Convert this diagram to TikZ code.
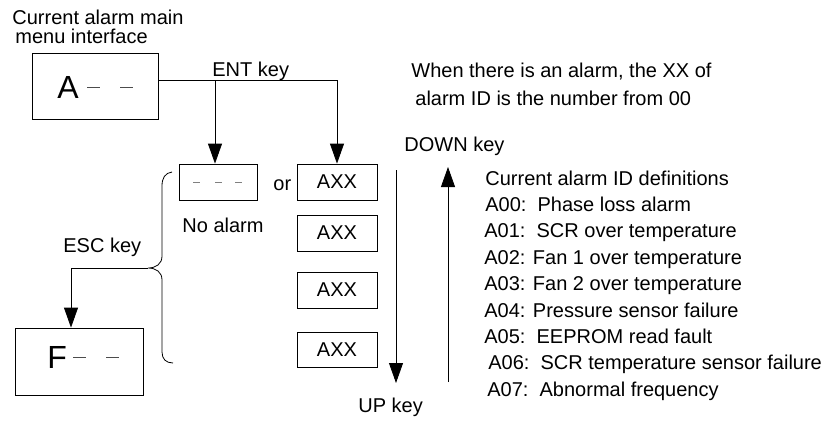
\documentclass[tikz,border=0pt]{standalone}
\usepackage{fontspec}
\setmainfont{Liberation Sans}
\usetikzlibrary{arrows.meta}
\begin{document}
\begin{tikzpicture}[x=1pt,y=-1pt,line width=0.8pt,
  txt/.style={font=\fontsize{20}{24}\selectfont, inner sep=0pt, anchor=base west},
  big/.style={font=\fontsize{32}{36}\selectfont, inner sep=0pt, anchor=base west},
  box/.style={draw, inner sep=0pt, font=\fontsize{20}{24}\selectfont},
  arr/.style={-{Triangle[length=20pt,width=14pt]}},
  dsh/.style={line width=0.9pt, black!70},
  ldsh/.style={line width=0.9pt, black!50}]
\useasboundingbox (0,0) rectangle (833,421);

% texts
\node[txt, align=left, font=\fontsize{20}{18.5}\selectfont] (t1) at (12,43) {Current alarm main\\\hspace*{3pt}menu interface};
\node[txt] (ent) at (212,76) {ENT key};
\node[txt] (w1) at (411,77) {When there is an alarm, the XX of};
\node[txt] (w2) at (415,105) {alarm ID is the number from 00};
\node[txt] (down) at (404,151) {DOWN key};
\node[txt] (up) at (358,412) {UP key};
\node[txt] (or) at (273,190) {or};
\node[txt] (noal) at (182,232) {No alarm};
\node[txt] (esc) at (63,252) {ESC key};

% definitions
\node[txt] (h0) at (485,185) {Current alarm ID definitions};
\node[txt] (a0) at (485,211.4) {A00:\ \ Phase loss alarm};
\node[txt] (a1) at (484,237.8) {A01:\ \ SCR over temperature};
\node[txt] (a2) at (484,264.2) {A02: Fan 1 over temperature};
\node[txt] (a3) at (484,290.6) {A03: Fan 2 over temperature};
\node[txt] (a4) at (484,317) {A04: Pressure sensor failure};
\node[txt] (a5) at (484,343.4) {A05:\ \ EEPROM read fault};
\node[txt] (a6) at (488,369.8) {A06:\ \ SCR temperature sensor failure};
\node[txt] (a7) at (487,396.2) {A07:\ \ Abnormal frequency};

% boxes
\node[box, minimum width=126pt, minimum height=66pt] (A) at (95,86) {};
\node[big] (Al) at (57,98) {A};
\draw[dsh] (87,87) -- (100,87);
\draw[dsh] (120,87) -- (133,87);

\node[box, minimum width=128pt, minimum height=67pt] (F) at (79,361.5) {};
\node[big] (Fl) at (47,368) {F};
\draw[dsh] (73,357) -- (86,357);
\draw[dsh] (106,357) -- (119,357);

\node[box, minimum width=78pt, minimum height=36pt] (dash) at (218,182) {};
\draw[ldsh] (193,182) -- (200,182);
\draw[ldsh] (215,182) -- (222,182);
\draw[ldsh] (235,182) -- (242,182);

\node[box, minimum width=80pt, minimum height=36pt] (ax1) at (337,182) {AXX};
\node[box, minimum width=80pt, minimum height=36pt] (ax2) at (337,233) {AXX};
\node[box, minimum width=80pt, minimum height=36pt] (ax3) at (337,290) {AXX};
\node[box, minimum width=80pt, minimum height=35pt] (ax4) at (337,349.5) {AXX};

% ENT connectors
\coordinate (j) at (215,80);
\draw (A.east |- j) -- (j);
\draw[arr] (j) -| (ax1.north);
\draw[arr] (j) -- (j |- dash.north);

% brace
\coordinate (bt) at (148,268);
\draw (172,172) .. controls (165,173) and (162,178) .. (162,186) -- (162,256)
  .. controls (162,264) and (156,268) .. (bt)
  .. controls (156,268) and (162,272) .. (162,280) -- (162,352)
  .. controls (162,359) and (166,363) .. (173,363);

% ESC arrow
\coordinate (ec) at (71,268);
\draw[arr] (bt) -- (ec) -- (ec |- F.north);

% DOWN / UP arrows
\coordinate (d1) at (396,170);
\coordinate (d2) at (396,383);
\draw[arr] (d1) -- (d2);
\coordinate (u1) at (448,382);
\coordinate (u2) at (448,167);
\draw[arr] (u1) -- (u2);
\end{tikzpicture}
\end{document}
